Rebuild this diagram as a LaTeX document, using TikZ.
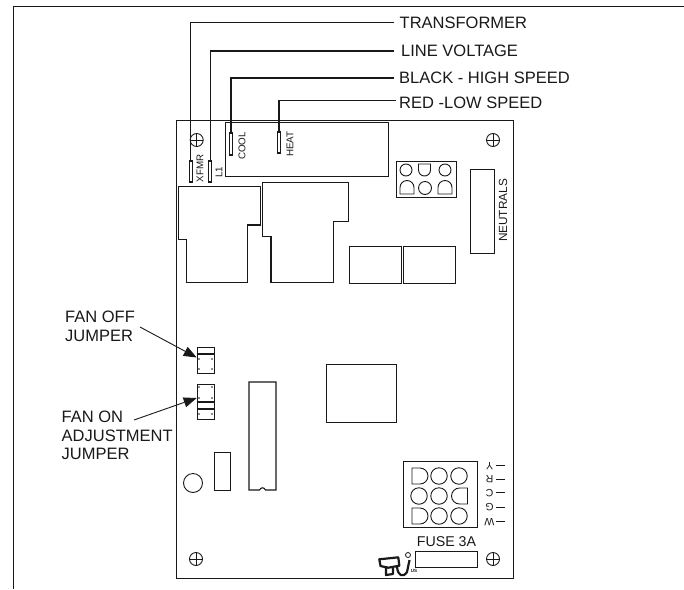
\documentclass[tikz,border=0pt]{standalone}
\usepackage{fontspec}
\setmainfont{Liberation Sans}
\usetikzlibrary{arrows.meta}
\definecolor{ink}{gray}{0.1}
\tikzset{
 x=1pt,y=-1pt,
 part/.style={draw=ink,line width=1.1pt,fill=none},
 thin part/.style={draw=ink,line width=0.9pt,fill=none},
 lead/.style={draw=ink,line width=1.1pt},
 lab/.style={inner sep=0pt,text=ink,font=\fontsize{16.5}{18.6}\selectfont,anchor=west},
 vlab/.style={inner sep=0pt,text=ink,font=\fontsize{9.8}{10}\selectfont,rotate=90},
 tab/.style={draw=ink,line width=1.1pt,fill=white,minimum width=3pt,inner sep=0pt},
 pointer/.style={draw=ink,line width=0.9pt,-{Triangle[length=13pt,width=10pt]}},
 pin/.style={draw=ink,line width=0.9pt},
 dot/.style={fill=ink,circle,inner sep=0pt,minimum size=1.8pt},
}
\newcommand{\screwmark}[3]{\node[draw=ink,circle,line width=0.9pt,minimum size=13pt,inner sep=0pt] (#1) at (#2,#3) {};
 \draw[pin] (#2-6.5,#3) -- (#2+6.5,#3) (#2,#3-6.5) -- (#2,#3+6.5);}
\newcommand{\domeup}[2]{\draw[pin] (#1-7,#2+6.5) -- (#1-7,#2) arc[start angle=180,end angle=360,radius=7] -- (#1+7,#2+6.5) -- cycle;}
\newcommand{\domedown}[2]{\draw[pin] (#1-6,#2-6) -- (#1-6,#2) arc[start angle=180,end angle=0,radius=6] -- (#1+6,#2-6) -- cycle;}
\newcommand{\domeright}[2]{\draw[pin] (#1-8,#2-8) -- (#1,#2-8) arc[start angle=-90,end angle=90,radius=8] -- (#1-8,#2+8) -- cycle;}
\newcommand{\domeleft}[2]{\draw[pin] (#1+8,#2-8) -- (#1,#2-8) arc[start angle=270,end angle=90,radius=8] -- (#1+8,#2+8) -- cycle;}
\begin{document}
\begin{tikzpicture}[line join=miter]
\useasboundingbox (0,0) rectangle (684,589);
% page frame
\coordinate (fa) at (13.5,589); \coordinate (fb) at (13.5,6.7); \coordinate (fc) at (684,6.7);
\draw[ink,line width=1.8pt] (fa) -- (fb);
\draw[ink,line width=1.2pt] (13,6.7) -- (fc);
% board
\node[part,minimum width=337pt,minimum height=458pt,inner sep=0pt,anchor=north west] (board) at (176,120) {};
% labels
\node[lab] (t1) at (399.5,23) {TRANSFORMER};
\node[lab] (t2) at (401,51) {LINE VOLTAGE};
\node[lab] (t3) at (399,78) {BLACK - HIGH SPEED};
\node[lab] (t4) at (399,103) {RED -LOW SPEED};
% terminal block
\node[part,minimum width=163.5pt,minimum height=54pt,inner sep=0pt,anchor=north west] (block) at (224.5,122) {};
% tabs
\node[tab,minimum height=21pt] (xfmr) at (190.7,171.5) {};
\node[tab,minimum height=21pt] (l1) at (210.3,171.5) {};
\node[tab,minimum height=22pt] (cool) at (231,144) {};
\node[tab,minimum height=21pt] (heat) at (279,142.5) {};
\node[vlab] (xl) at (200,168.5) {XFMR};
\node[vlab] (ll) at (219,172) {L1};
\node[vlab] (cl) at (242,146) {COOL};
\node[vlab] (hl) at (290,144) {HEAT};
% leads
\coordinate (e1) at (394,22.7); \coordinate (e2) at (394,51); \coordinate (e3) at (394,78); \coordinate (e4) at (396,100.7);
\draw[lead] (e1) -| (xfmr.north);
\draw[lead] (e2) -| (l1.north);
\draw[lead] (e3) -| (cool.north);
\draw[lead] (e4) -| (heat.north);
% screws
\screwmark{s1}{196.7}{140}
\screwmark{s2}{493}{140}
\screwmark{s3}{196}{559}
\screwmark{s4}{493}{559}
% relays
\draw[part] (178.3,186.7) -- (260.7,186.7) -- (260.7,225) -- (247.3,225) -- (247.3,282.7) -- (186.3,282.7) -- (186.3,239.3) -- (178.3,239.3) -- cycle;
\draw[part] (262.3,182.3) -- (348.3,182.3) -- (348.3,221.7) -- (333.7,221.7) -- (333.7,282.7) -- (271,282.7) -- (271,236.7) -- (262.3,236.7) -- cycle;
\node[part,minimum width=52pt,minimum height=37pt,inner sep=0pt,anchor=north west] (r3) at (349,246) {};
\node[part,minimum width=52pt,minimum height=37pt,inner sep=0pt,anchor=north west] (r4) at (403,246) {};
% 6-pin connector
\node[part,minimum width=60pt,minimum height=36pt,inner sep=0pt,anchor=north west] (conn) at (396,161) {};
\node[pin,circle,minimum size=12pt,inner sep=0pt] (c1) at (406,170) {};
\domedown{424.5}{170}
\node[pin,circle,minimum size=12pt,inner sep=0pt] (c3) at (445,170) {};
\domeup{407}{187.5}
\node[pin,circle,minimum size=13pt,inner sep=0pt] (c5) at (425,188) {};
\domeup{445}{187.5}
% neutrals
\node[part,minimum width=24pt,minimum height=84pt,inner sep=0pt,anchor=north west] (neu) at (470,169) {};
\node[vlab,font=\fontsize{11.8}{12}\selectfont] (nl) at (503,210.5) {NEUTRALS};
% jumpers
\node[part,minimum width=17.3pt,minimum height=26pt,inner sep=0pt,anchor=north west] (j1) at (196.7,346.7) {};
\draw[part] (196.7,354) -- (214,354);
\node[part,minimum width=17.3pt,minimum height=35pt,inner sep=0pt,anchor=north west] (j2) at (196.7,384) {};
\draw[part] (196.7,402) -- (214,402) (196.7,409) -- (214,409);
\foreach \p/\q in {199/359,212/359,199/369,212/369,199/387,212/387,199/398,212/398,199/414,212/414}
  \node[dot] at (\p,\q) {};
\node[lab,anchor=west,align=left] (fo) at (65,326.5) {FAN OFF\\JUMPER};
\node[lab,anchor=west,align=left] (fa2) at (61.5,435.5) {FAN ON\\ADJUSTMENT\\JUMPER};
\coordinate (po) at (140,327); \coordinate (pa) at (134,420);
\draw[pointer] (po) -- (j1.west |- 0,357.5);
\draw[pointer] (pa) -- (j2.west |- 0,398);
% lower parts
\node[part,minimum width=16pt,minimum height=38pt,inner sep=0pt,anchor=north west] (ic1) at (214,452) {};
\draw[part] (249,382) -- (276,382) -- (276,490) -- (265.5,490) .. controls (264,487) and (261,487) .. (259.5,490) -- (249,490) -- cycle;
\node[draw=ink,line width=0.9pt,circle,minimum size=19pt,inner sep=0pt] (cap) at (193,483) {};
\node[part,minimum width=70pt,minimum height=58pt,inner sep=0pt,anchor=north west] (big) at (326,364) {};
% 9-pin connector
\node[part,minimum width=74pt,minimum height=66pt,inner sep=0pt,anchor=north west] (nine) at (403,461) {};
\domeright{420}{476}
\node[pin,circle,minimum size=16.5pt,inner sep=0pt] (n2) at (439,476) {};
\node[pin,circle,minimum size=16.5pt,inner sep=0pt] (n3) at (459,476) {};
\node[pin,circle,minimum size=16.5pt,inner sep=0pt] (n4) at (419,496) {};
\node[pin,circle,minimum size=16.5pt,inner sep=0pt] (n5) at (439,496) {};
\domeleft{459.5}{496}
\domeright{420}{516}
\node[pin,circle,minimum size=16.5pt,inner sep=0pt] (n8) at (439,516) {};
\node[pin,circle,minimum size=16.5pt,inner sep=0pt] (n9) at (459,516) {};
% terminal letters, upside down
\foreach \n/\t/\y in {ty/Y/465.7,tr/R/479,tc/C/492.7,tg/G/507,tw/W/521.7}{
  \node[inner sep=0pt,text=ink,font=\fontsize{10.5}{11}\selectfont,rotate=180] (\n) at (489.5,\y) {\t};
  \coordinate (\n a) at (496,\y); \coordinate (\n b) at (505,\y);
  \draw[pin] (\n a) -- (\n b);
}
% fuse
\node[lab,font=\fontsize{14.2}{15}\selectfont,anchor=center] (fuse) at (446.5,541.5) {FUSE 3A};
\node[part,minimum width=62pt,minimum height=16pt,inner sep=0pt,anchor=north west] (fz) at (415,551) {};
% UL mark
\draw[ink,line width=2.2pt,line join=round] (379.3,559.3) -- (398.3,557.3) -- (399.3,565.7) -- (388.3,567.7) -- (380.5,566) -- cycle
  (386,568) -- (386,575) -- (393,574) -- (393,566)
  (397,567) .. controls (398,576) and (403,578) .. (407,572) -- (409.5,560);
\node[draw=ink,circle,line width=0.8pt,inner sep=0pt,minimum size=5pt] (reg) at (408,555) {};
\node[inner sep=0pt,text=ink,font=\bfseries\fontsize{4.5}{5}\selectfont] (us) at (414,571) {US};
\end{tikzpicture}
\end{document}
